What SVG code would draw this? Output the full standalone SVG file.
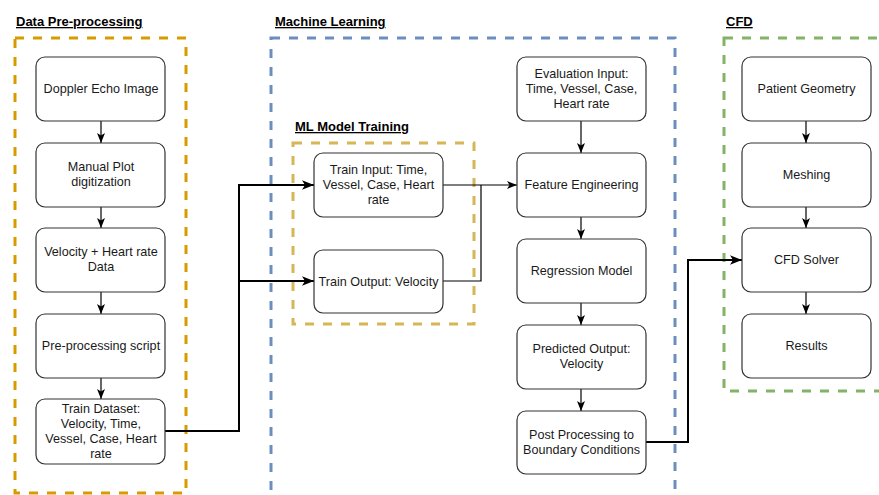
<svg xmlns="http://www.w3.org/2000/svg" width="879" height="495" viewBox="0 0 879 495">
<defs>
<style>
.title{font-family:"Liberation Sans",Arial,sans-serif;font-size:13px;font-weight:bold;fill:#000;text-decoration:underline}
.node rect{fill:#fff;stroke:#333;stroke-width:1.2}
.node text{font-family:"Liberation Sans",Arial,sans-serif;font-size:12.6px;fill:#1a1a1a;text-anchor:middle}
.grp{fill:none;stroke-width:3;stroke-dasharray:9 9}
.thin{fill:none;stroke:#000;stroke-width:1.2;marker-end:url(#arr)}
.thick{fill:none;stroke:#000;stroke-width:2;marker-end:url(#arr2)}
</style>
<marker id="arr" markerUnits="userSpaceOnUse" markerWidth="10" markerHeight="10" viewBox="0 0 10 10" refX="10" refY="5" orient="auto">
<path d="M0,1 L10,5 L0,9 L2.5,5 z" fill="#000"/>
</marker>
<marker id="arr2" markerUnits="userSpaceOnUse" markerWidth="12" markerHeight="12" viewBox="0 0 10 10" refX="10" refY="5" orient="auto">
<path d="M0,1 L10,5 L0,9 L2.5,5 z" fill="#000"/>
</marker>
</defs>
<rect width="879" height="495" fill="#fff"/>

<g id="groups">
<rect class="grp" x="15" y="38" width="171" height="455" stroke="#d79b00"/>
<rect class="grp" x="271" y="38" width="404" height="470" stroke="#6c8ebf"/>
<rect class="grp" x="724" y="38" width="200" height="353" stroke="#82b366"/>
<rect class="grp" x="293" y="143" width="181" height="181" stroke="#d6b656" stroke-width="2.5"/>
<text class="title" x="16" y="26">Data Pre-processing</text>
<text class="title" x="275" y="26">Machine Learning</text>
<text class="title" x="295" y="131">ML Model Training</text>
<text class="title" x="726" y="26">CFD</text>
</g>

<g id="connectors">
<path class="thin" d="M101,121 V143"/>
<path class="thin" d="M101,207 V228"/>
<path class="thin" d="M101,292 V314"/>
<path class="thin" d="M101,378 V399"/>
<path class="thick" d="M165,431 H239 V185 H314"/>
<path class="thick" d="M239,281 H314"/>
<path class="thin" d="M443,185 H517"/>
<path d="M443,281 H481 V185" fill="none" stroke="#000" stroke-width="1.2"/>
<path class="thin" d="M581,121 V153"/>
<path class="thin" d="M581,217 V239"/>
<path class="thin" d="M581,303 V325"/>
<path class="thin" d="M581,389 V411"/>
<path class="thick" d="M646,442 H688 V260 H742"/>
<path class="thin" d="M806,121 V143"/>
<path class="thin" d="M806,207 V228"/>
<path class="thin" d="M806,292 V314"/>
</g>

<g id="doppler" class="node"><rect x="36" y="57" width="129" height="64" rx="9"/><text x="101" y="93">Doppler Echo Image</text></g>
<g id="manual" class="node"><rect x="36" y="143" width="129" height="64" rx="9"/><text x="101" y="171">Manual Plot</text><text x="101" y="186">digitization</text></g>
<g id="velocity" class="node"><rect x="36" y="228" width="129" height="64" rx="9"/><text x="101" y="256">Velocity + Heart rate</text><text x="101" y="271">Data</text></g>
<g id="preproc" class="node"><rect x="36" y="314" width="129" height="64" rx="9"/><text x="101" y="350">Pre-processing script</text></g>
<g id="traindataset" class="node"><rect x="36" y="399" width="129" height="65" rx="9"/><text x="101" y="413">Train Dataset:</text><text x="101" y="428">Velocity, Time,</text><text x="101" y="443">Vessel, Case, Heart</text><text x="101" y="458">rate</text></g>

<g id="traininput" class="node"><rect x="314" y="153" width="129" height="64" rx="9"/><text x="378.5" y="174">Train Input: Time,</text><text x="378.5" y="189">Vessel, Case, Heart</text><text x="378.5" y="204">rate</text></g>
<g id="trainoutput" class="node"><rect x="314" y="250" width="129" height="63" rx="9"/><text x="378.5" y="286">Train Output: Velocity</text></g>

<g id="evalinput" class="node"><rect x="517" y="57" width="129" height="64" rx="9"/><text x="581.5" y="78">Evaluation Input:</text><text x="581.5" y="93">Time, Vessel, Case,</text><text x="581.5" y="108">Heart rate</text></g>
<g id="feature" class="node"><rect x="517" y="153" width="129" height="64" rx="9"/><text x="581.5" y="189">Feature Engineering</text></g>
<g id="regression" class="node"><rect x="517" y="239" width="129" height="64" rx="9"/><text x="581.5" y="275">Regression Model</text></g>
<g id="predicted" class="node"><rect x="517" y="325" width="129" height="64" rx="9"/><text x="581.5" y="353">Predicted Output:</text><text x="581.5" y="368">Velocity</text></g>
<g id="postproc" class="node"><rect x="517" y="411" width="129" height="63" rx="9"/><text x="581.5" y="439">Post Processing to</text><text x="581.5" y="454">Boundary Conditions</text></g>

<g id="geometry" class="node"><rect x="742" y="57" width="129" height="64" rx="9"/><text x="806.5" y="93">Patient Geometry</text></g>
<g id="meshing" class="node"><rect x="742" y="143" width="129" height="64" rx="9"/><text x="806.5" y="179">Meshing</text></g>
<g id="solver" class="node"><rect x="742" y="228" width="129" height="64" rx="9"/><text x="806.5" y="264">CFD Solver</text></g>
<g id="results" class="node"><rect x="742" y="314" width="129" height="64" rx="9"/><text x="806.5" y="350">Results</text></g>
</svg>
